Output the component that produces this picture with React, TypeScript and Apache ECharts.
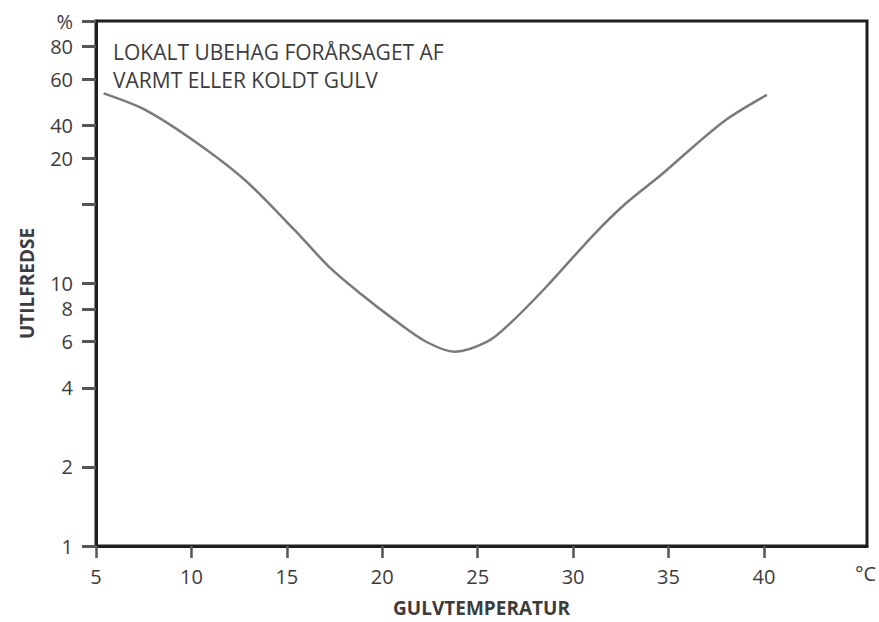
import React, { useEffect, useRef } from "react";
import * as echarts from "echarts";

// Floor temperature (°C) and percentage dissatisfied
const floorTemp = [5.4, 7.6, 10.2, 12.8, 15.4, 17.2, 18.9, 20.6, 22.3, 23.8, 25.5, 26.7, 28.6, 31.1, 32.8, 34.6, 36.3, 38.0, 40.15];
const dissatisfied = [53.0, 45.8, 34.7, 24.8, 16.0, 11.6, 9.1, 7.3, 6.0, 5.5, 6.0, 7.05, 9.72, 15.4, 20.3, 25.9, 33.2, 42.0, 52.3];

const xTicks = [5, 10, 15, 20, 25, 30, 35, 40];
const yTicks = [1, 2, 4, 6, 8, 10, 20, 30, 40, 60, 80, 100];
const yTickLabels = ["1", "2", "4", "6", "8", "10", "", "20", "40", "60", "80", "%"];

const titleLines = ["LOKALT UBEHAG FORÅRSAGET AF", "VARMT ELLER KOLDT GULV"];
const xName = "GULVTEMPERATUR";
const yName = "UTILFREDSE";
const unitLabel = "°C";

const FONT = "'Open Sans', 'Noto Sans', sans-serif";
const TEXT = "#3c3c3c";

export default function App() {
  const ref = useRef<HTMLDivElement>(null);

  useEffect(() => {
    if (!ref.current) return;
    const chart = echarts.init(ref.current, null, { renderer: "svg" });
    const labelFor = (v: number) => {
      const i = yTicks.findIndex((t) => Math.abs(t - v) < 1e-6);
      return i >= 0 ? yTickLabels[i] : "";
    };
    chart.setOption({
      animation: false,
      backgroundColor: "#ffffff",
      grid: {
        left: 96,
        right: 12,
        top: 21,
        bottom: 76,
        show: true,
        borderColor: "#1e1e1e",
        borderWidth: 3,
        backgroundColor: "transparent",
      },
      xAxis: {
        type: "value",
        min: 5,
        max: 45.4,
        name: xName,
        nameLocation: "middle",
        nameGap: 52,
        nameTextStyle: { fontFamily: FONT, fontSize: 19, fontWeight: "bold", color: TEXT },
        axisLine: { show: true, onZero: false, lineStyle: { color: "#1e1e1e", width: 3 } },
        axisTick: { show: true, customValues: xTicks, length: 12, lineStyle: { color: "#555", width: 2.5 } },
        axisLabel: {
          customValues: xTicks,
          fontFamily: FONT,
          fontSize: 20,
          color: TEXT,
          margin: 20,
        },
        splitLine: { show: false },
      },
      yAxis: {
        type: "log",
        logBase: 10,
        min: 1,
        max: 100,
        name: yName,
        nameLocation: "middle",
        nameRotate: 90,
        nameGap: 60,
        nameTextStyle: { fontFamily: FONT, fontSize: 19, fontWeight: "bold", color: TEXT },
        axisLine: { show: true, lineStyle: { color: "#1e1e1e", width: 3 } },
        axisTick: { show: true, customValues: yTicks, length: 14, lineStyle: { color: "#555", width: 3 } },
        axisLabel: {
          customValues: yTicks,
          formatter: (v: number) => labelFor(v),
          fontFamily: FONT,
          fontSize: 20,
          color: TEXT,
          margin: 23,
        },
        splitLine: { show: false },
        minorTick: { show: false },
      },
      graphic: [
        {
          type: "text",
          left: 113,
          top: 38,
          style: {
            text: titleLines.join("\n"),
            fontFamily: FONT,
            fontSize: 21,
            lineHeight: 28,
            fill: TEXT,
          },
        },
        {
          type: "text",
          left: 855,
          top: 563,
          style: { text: unitLabel, fontFamily: FONT, fontSize: 20, fill: TEXT },
        },
      ],
      series: [
        {
          type: "line",
          data: floorTemp.map((t, i) => [t, dissatisfied[i]]),
          smooth: 0.3,
          showSymbol: false,
          lineStyle: { color: "#7a7a7a", width: 2.5 },
        },
      ],
    });
    return () => chart.dispose();
  }, []);

  return (
    <div
      ref={ref}
      style={{ position: "fixed", left: 0, top: 0, width: 879, height: 622, background: "#fff" }}
    />
  );
}
